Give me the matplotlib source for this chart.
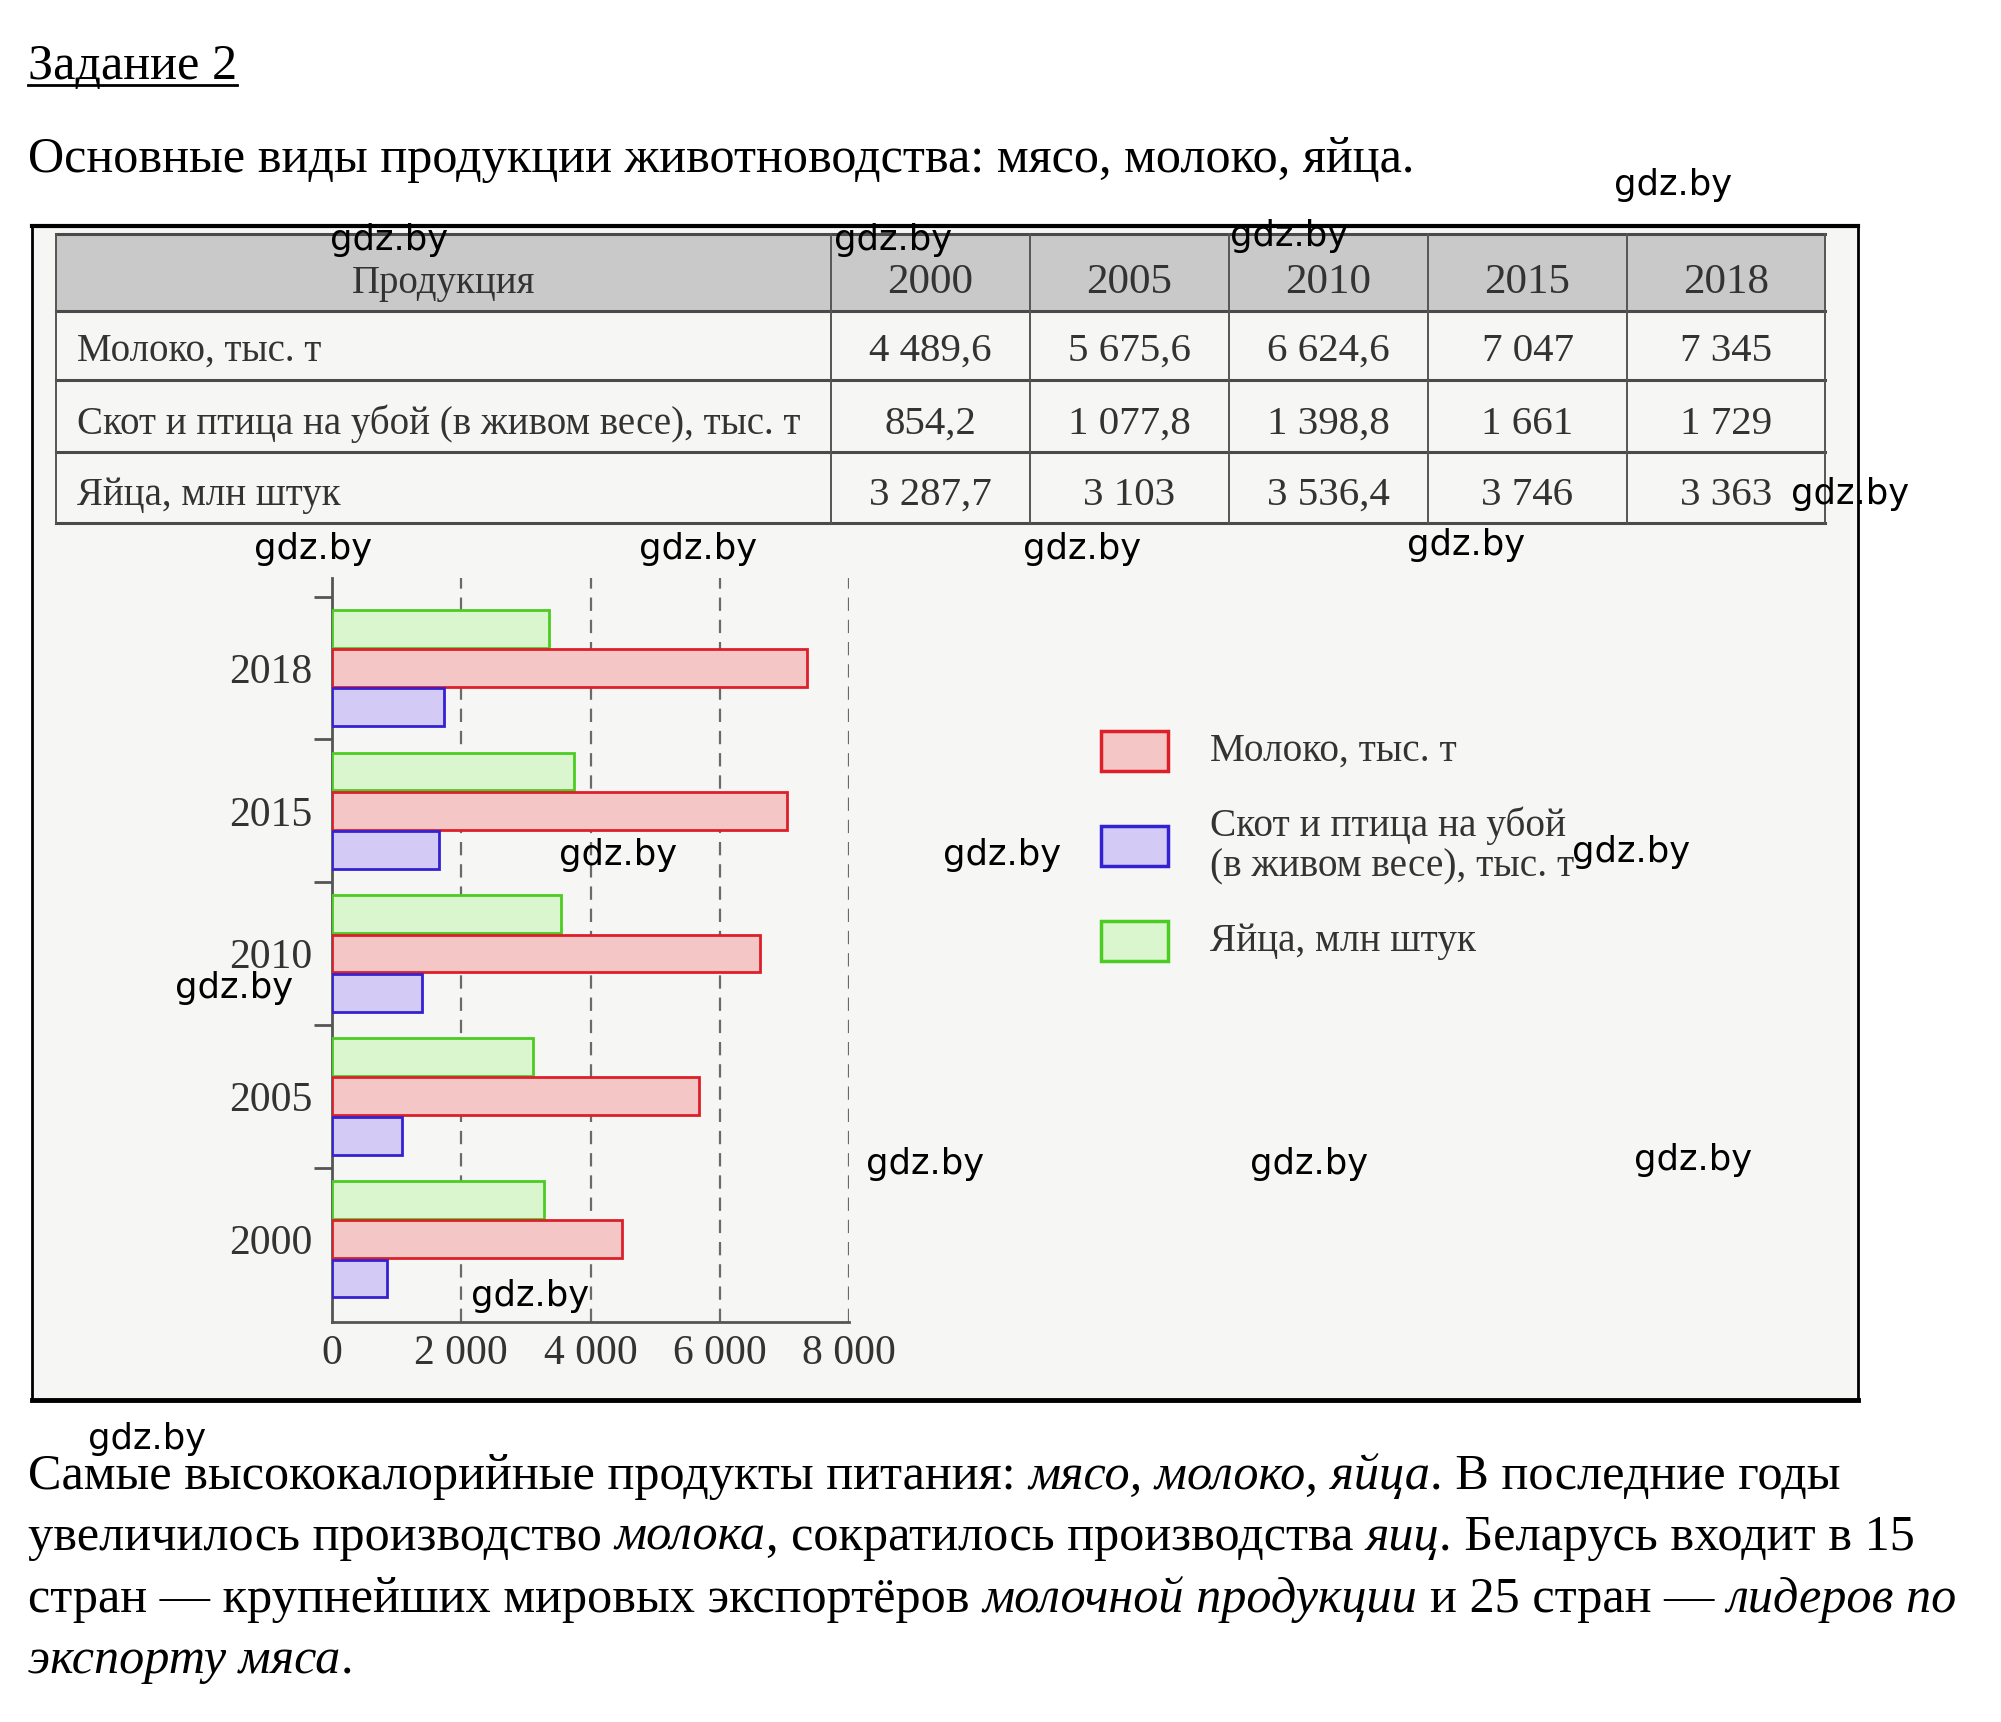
import matplotlib
matplotlib.use('Agg')
import matplotlib.pyplot as plt
from matplotlib.patches import Rectangle

# data from the table
years = ['2000', '2005', '2010', '2015', '2018']
milk = [4489.6, 5675.6, 6624.6, 7047, 7345]
meat = [854.2, 1077.8, 1398.8, 1661, 1729]
eggs = [3287.7, 3103, 3536.4, 3746, 3363]
row_labels = ['Молоко, тыс. т', 'Скот и птица на убой (в живом весе), тыс. т', 'Яйца, млн штук']
legend_labels = ['Молоко, тыс. т', 'Скот и птица на убой\n(в живом весе), тыс. т', 'Яйца, млн штук']
x_ticks = [0, 2000, 4000, 6000, 8000]

W, H = 2001, 1722
SERIF = 'Liberation Serif'
INK = '#333333'
PFS = 36.2  # page text size
red = ('#f4c6c6', '#dd1f2a')
blue = ('#d3cbf6', '#3421d2')
green = ('#daf6cf', '#4ccc22')


def fmt(v):
    s = f'{v:,.0f}' if float(v).is_integer() else f'{v:,.1f}'
    return s.replace(',', ' ').replace('.', ',')


fig = plt.figure(figsize=(W / 100, H / 100), dpi=100)
fig.patch.set_facecolor('white')

# page axes in pixel coords
page = fig.add_axes([0, 0, 1, 1])
page.set_xlim(0, W)
page.set_ylim(H, 0)
page.axis('off')

# framed picture
page.add_patch(Rectangle((32, 226), 1826, 1174, fc='#f6f6f4', ec='black', lw=2))
page.plot([32, 1858], [226, 226], color='black', lw=3)
page.plot([32, 1858], [1400, 1400], color='black', lw=3.5)

# table
col_x = [56, 831, 1030, 1229, 1428, 1627, 1825]
row_y = [234, 311, 380, 452, 523]
page.add_patch(Rectangle((col_x[0], row_y[0]), col_x[-1] - col_x[0], row_y[1] - row_y[0],
                         fc='#c9c9c9', ec='none'))
for y in row_y:
    page.plot([col_x[0], col_x[-1]], [y, y], color='#4a4a4a', lw=2.2)
for x in col_x:
    page.plot([x, x], [row_y[0], row_y[-1]], color='#555555', lw=1.4)

page.text((col_x[0] + col_x[1]) / 2, 293, 'Продукция', ha='center', va='baseline',
          fontsize=28, family=SERIF, color=INK)
for j, yr in enumerate(years):
    page.text((col_x[j + 1] + col_x[j + 2]) / 2, 293, yr, ha='center', va='baseline',
              fontsize=31, family=SERIF, color=INK)
baselines = [361, 434, 505]
for i, (lab, vals) in enumerate(zip(row_labels, [milk, meat, eggs])):
    page.text(77, baselines[i], lab, ha='left', va='baseline', fontsize=28, family=SERIF, color=INK)
    for j, v in enumerate(vals):
        page.text((col_x[j + 1] + col_x[j + 2]) / 2, baselines[i], fmt(v), ha='center',
                  va='baseline', fontsize=29.5, family=SERIF, color=INK)

# bar chart
ax = fig.add_axes([332 / W, 1 - 1322 / H, 517 / W, (1322 - 578) / H])
ax.set_facecolor('none')
pos = list(range(len(years)))
bh = 0.265
off = 0.275
for vals, (fc, ec), d in [(eggs, green, off), (milk, red, 0), (meat, blue, -off)]:
    ax.barh([p + d for p in pos], vals, height=bh, color=fc, edgecolor=ec, linewidth=2, zorder=3)

ax.set_xlim(0, 8000)
ax.set_ylim(-0.58, 4.63)
ax.set_xticks(x_ticks)
ax.set_xticklabels([f'{t:,}'.replace(',', ' ') for t in x_ticks], family=SERIF,
                   fontsize=30, color=INK)
ax.tick_params(axis='x', length=0, pad=9)
ax.set_yticks([p + 0.5 for p in pos])
ax.set_yticklabels([])
ax.set_yticks(pos, minor=True)
ax.set_yticklabels(years, minor=True, family=SERIF, fontsize=30, color=INK)
ax.tick_params(axis='y', which='major', length=13, width=2, color='#555555')
ax.tick_params(axis='y', which='minor', length=0, pad=14)
for t in ax.get_yticklabels(minor=True):
    t.set_va('center_baseline')
for x in x_ticks[1:]:
    ax.axvline(x, color='#6a6a6a', lw=1.6, ls=(0, (6, 4)), zorder=1)
for s in ['top', 'right']:
    ax.spines[s].set_visible(False)
for s in ['left', 'bottom']:
    ax.spines[s].set_color('#555555')
    ax.spines[s].set_linewidth(2)

# legend drawn by hand
leg_y = [751, 846, 941]
for (fc, ec), lab, y in zip([red, blue, green], legend_labels, leg_y):
    page.add_patch(Rectangle((1101, y - 20), 67, 40, fc=fc, ec=ec, lw=2.5))
    page.text(1210, y, lab, ha='left', va='center', fontsize=28.3, family=SERIF,
              color=INK, linespacing=1.12)

# page text
r = fig.canvas.get_renderer()
title = page.text(28, 79, 'Задание 2', fontsize=PFS, family=SERIF, va='baseline')
tw = title.get_window_extent(r).width
page.plot([28, 28 + tw], [85, 85], color='black', lw=2)
page.text(28, 172, 'Основные виды продукции животноводства: мясо, молоко, яйца.',
          fontsize=PFS, family=SERIF, va='baseline')


def width(s, style):
    t = page.text(0, 0, s, fontsize=PFS, family=SERIF, style=style)
    w = t.get_window_extent(r).width
    t.remove()
    return w


space = {st: width('x x', st) - width('xx', st) for st in ['normal', 'italic']}

paragraph = [
    [('Самые высококалорийные продукты питания: ', 'normal'), ('мясо, молоко, яйца', 'italic'),
     ('. В последние годы', 'normal')],
    [('увеличилось производство ', 'normal'), ('молока', 'italic'),
     (', сократилось производства ', 'normal'), ('яиц', 'italic'),
     ('. Беларусь входит в 15', 'normal')],
    [('стран — крупнейших мировых экспортёров ', 'normal'), ('молочной продукции', 'italic'),
     (' и 25 стран — ', 'normal'), ('лидеров по', 'italic')],
    [('экспорту мяса', 'italic'), ('.', 'normal')],
]
for base, parts in zip([1489, 1550, 1612, 1673], paragraph):
    x = 28
    for s, st in parts:
        if s.startswith(' '):
            x += space[st]
        core = s.strip(' ')
        t = page.text(x, base, core, fontsize=PFS, family=SERIF, style=st, va='baseline')
        x += t.get_window_extent(r).width
        if s.endswith(' '):
            x += space[st]

# site watermarks
marks = [(1673, 185), (389, 240), (893, 240), (1289, 236), (1850, 494), (313, 549),
         (698, 549), (1082, 549), (1466, 545), (618, 855), (1002, 855), (1631, 852),
         (234, 988), (925, 1164), (1309, 1164), (1693, 1160), (530, 1296), (147, 1439)]
for mx, my in marks:
    fig.text(mx / W, 1 - my / H, 'gdz.by', ha='center', va='center', fontsize=25.5,
             family='DejaVu Sans', color='black', zorder=10)

fig.savefig('out.png', dpi=100)
